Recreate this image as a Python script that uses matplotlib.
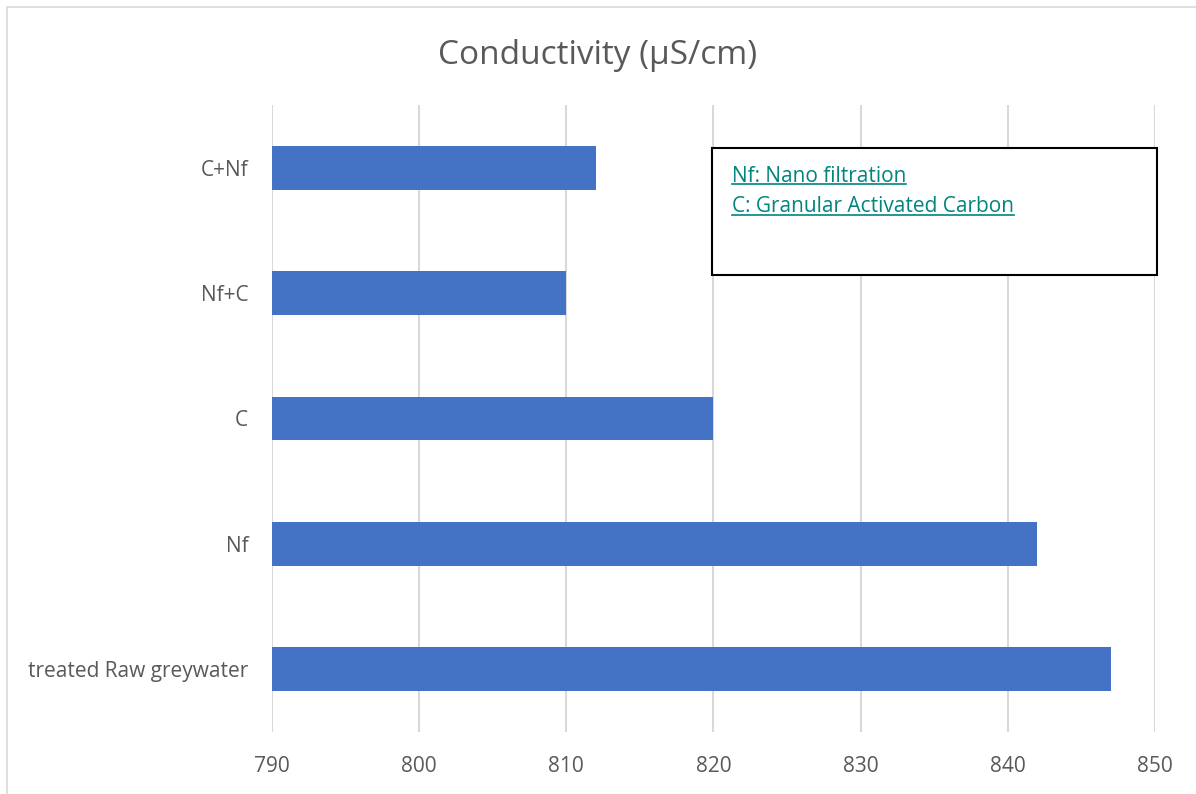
import matplotlib.pyplot as plt
from matplotlib.patches import Rectangle
from matplotlib.lines import Line2D

categories = ["treated Raw greywater", "Nf", "C", "Nf+C", "C+Nf"]
values = [847, 842, 820, 810, 812]
xticks = [790, 800, 810, 820, 830, 840, 850]
note_lines = ["Nf: Nano filtration", "C: Granular Activated Carbon"]

plt.rcParams['font.family'] = ['Open Sans', 'DejaVu Sans']

fig = plt.figure(figsize=(11.96, 7.94), dpi=100)
ax = fig.add_axes([0.2274, 0.0781, 0.7383, 0.7897])

# outer chart border
fig.patches.append(Rectangle((7 / 1196, -0.1), 1.2, 1 - 7 / 794 + 0.1, transform=fig.transFigure,
                             fill=False, edgecolor='#d9d9d9', lw=1.2))

ax.barh(range(len(categories)), [v - 790 for v in values], left=790, height=0.35,
        color='#4472C4', zorder=3)
ax.set_xlim(790, 850)
ax.set_ylim(-0.5, len(categories) - 0.5)
ax.set_xticks(xticks)
ax.set_yticks(range(len(categories)))
ax.set_yticklabels(categories)
ax.tick_params(length=0, labelsize=15, colors='#595959')
ax.tick_params(axis='y', pad=17)
ax.tick_params(axis='x', pad=17)
ax.grid(axis='x', color='#d9d9d9', lw=1.5, zorder=0)
for s in ax.spines.values():
    s.set_visible(False)

fig.text(0.5, 1 - 55 / 794, "Conductivity (\u00b5S/cm)", ha='center', va='center',
         fontsize=24, color='#595959')

# note box
fig.patches.append(Rectangle((712 / 1196, 1 - 275 / 794), 445 / 1196, 127 / 794,
                             transform=fig.transFigure, fill=True, facecolor='white',
                             edgecolor='black', lw=1.5, zorder=5))
texts = []
for i, line in enumerate(note_lines):
    t = fig.text(732 / 1196, 1 - (176 + 31 * i) / 794, line, ha='left', va='center',
                 fontsize=15, color='#00857f', zorder=6)
    texts.append(t)

fig.canvas.draw()
r = fig.canvas.get_renderer()
inv = fig.transFigure.inverted()
for t in texts:
    bb = t.get_window_extent(r)
    (x0, y0), (x1, y1) = inv.transform([(bb.x0, bb.y0), (bb.x1, bb.y1)])
    yl = y0 + (y1 - y0) * 0.1
    fig.lines.append(Line2D([x0, x1], [yl, yl], transform=fig.transFigure,
                            color='#00857f', lw=1.2, zorder=6))

fig.savefig('out.png', dpi=100)
